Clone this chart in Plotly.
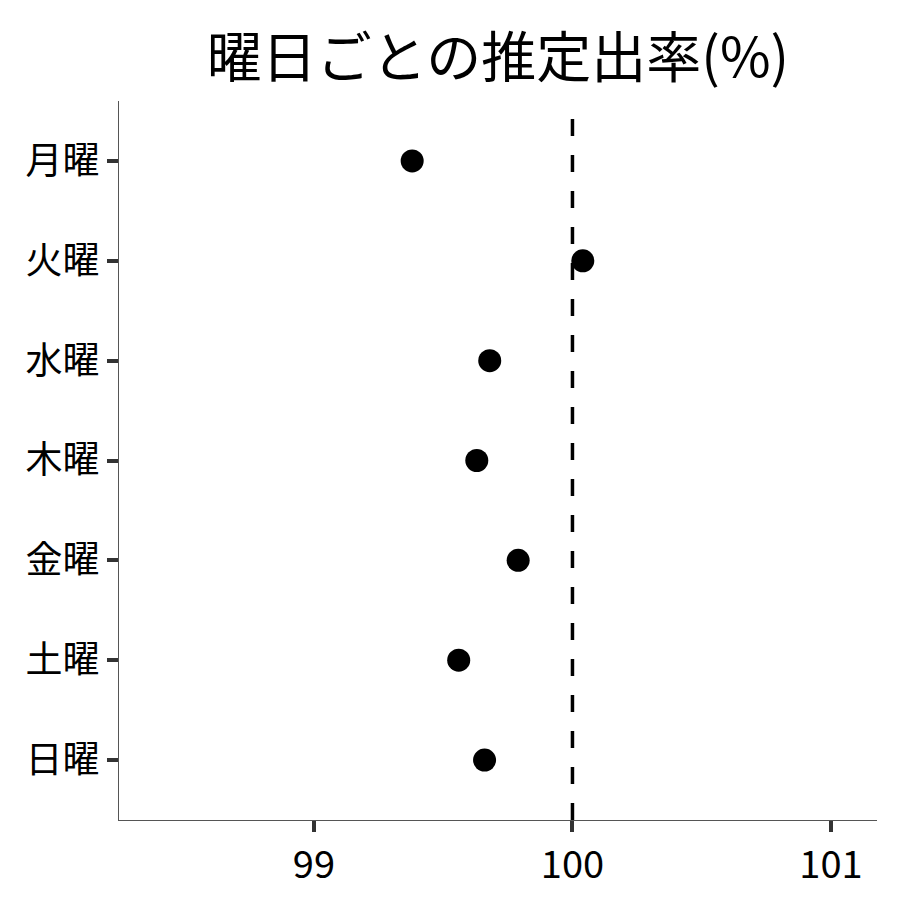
import plotly.graph_objects as go

days = ["月曜", "火曜", "水曜", "木曜", "金曜", "土曜", "日曜"]
rates = [99.38, 100.04, 99.68, 99.63, 99.79, 99.56, 99.66]
x_ticks = [99, 100, 101]
ref_value = 100

FONT = "Noto Sans CJK JP"

fig = go.Figure()

fig.add_trace(go.Scatter(
    x=rates,
    y=days,
    mode="markers",
    marker=dict(color="black", size=23),
    showlegend=False,
    hoverinfo="x+y",
))

# reference line at 100%
fig.add_vline(x=ref_value, line=dict(color="black", width=3.5, dash="17px,19px"))

# page body adds ~7px offset, margins compensate
fig.update_layout(
    width=900,
    height=900,
    paper_bgcolor="white",
    plot_bgcolor="white",
    margin=dict(l=111, r=31, t=93, b=88),
    font=dict(family=FONT, color="black"),
    title=dict(
        text="曜日ごとの推定出率(%)",
        font=dict(family=FONT, size=55, color="black"),
        x=0.5, xref="paper", xanchor="center",
        y=0.945, yref="container", yanchor="middle",
    ),
    xaxis=dict(
        range=[98.246, 101.178],
        tickvals=x_ticks,
        ticktext=[str(v) for v in x_ticks],
        showgrid=False,
        zeroline=False,
        showline=True,
        linecolor="#555555",
        linewidth=1,
        ticks="outside",
        ticklen=11,
        tickwidth=3.5,
        tickcolor="#333333",
        tickfont=dict(family=FONT, size=38, color="black"),
    ),
    yaxis=dict(
        categoryorder="array",
        categoryarray=days,
        autorange=False,
        range=[6.6, -0.6],
        showgrid=False,
        zeroline=False,
        showline=True,
        linecolor="#555555",
        linewidth=1,
        ticks="outside",
        ticklen=11,
        tickwidth=3.5,
        tickcolor="#333333",
        tickfont=dict(family=FONT, size=37, color="black"),
    ),
)

fig.write_html("out.html")
